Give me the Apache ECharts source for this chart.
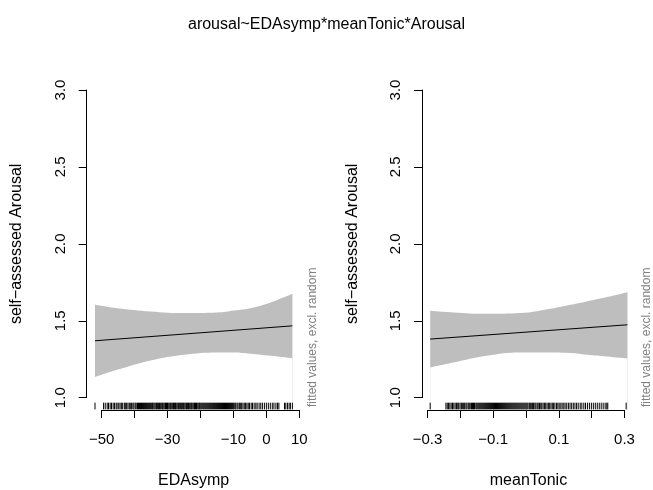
<!DOCTYPE html>
<html>
<head>
<meta charset="utf-8">
<script src="https://cdn.jsdelivr.net/npm/echarts@6/dist/echarts.min.js"></script>
<style>
html,body{margin:0;padding:0;background:#fff;}
#chart{width:653px;height:490px;}
</style>
</head>
<body>
<div id="chart"></div>
<script>
// ---- data ----
const titleText = 'arousal~EDAsymp*meanTonic*Arousal';
const yTitle = 'self\u2212assessed Arousal';
const noteText = 'fitted values, excl. random';

// Panel 1: EDAsymp
const edaX     = [-52.0, -45.3, -35.1, -25.0, -14.9, -9.8, -4.8, 1.3, 7.9];
const edaUpper = [1.604, 1.582, 1.561, 1.550, 1.554, 1.567, 1.582, 1.619, 1.675];
const edaLower = [1.134, 1.181, 1.242, 1.279, 1.294, 1.294, 1.286, 1.273, 1.257];
const edaFitX  = [-52.0, 7.9];
const edaFit   = [1.370, 1.467];
const edaTicks = [-50, -40, -30, -20, -10, 0, 10];
const edaTickLabels = ['-50', '-30', '-10', '0', '10'];
const edaRug = [-52.0,
  -49.4, -48.9, -48.3, -47.9, -47.4, -47.0, -46.5, -46.1, -45.6, -45.3, -44.8, -44.4, -44.0, -43.6,
  -43.1, -42.8, -42.4, -42.0, -41.6, -41.3, -40.9, -40.5, -40.2, -39.8, -39.5, -39.1, -38.8, -38.5,
  -38.2, -37.9, -37.6, -37.3, -37.0, -36.7, -36.4, -36.1, -35.8, -35.5, -35.2, -34.9, -34.6, -34.4,
  -34.1, -33.8, -33.5, -33.3, -33.0, -32.7, -32.4, -32.2, -31.9, -31.6, -31.4, -31.1, -30.8, -30.6,
  -30.3, -30.0, -29.8, -29.5, -29.2, -29.0, -28.7, -28.4, -28.2, -27.9, -27.6, -27.4, -27.1, -26.8,
  -26.6, -26.3, -26.0, -25.8, -25.5, -25.2, -25.0, -24.7, -24.4, -24.2, -23.9, -23.6, -23.4, -23.1,
  -22.8, -22.6, -22.3, -22.0, -21.8, -21.5, -21.2, -21.0, -20.7, -20.4, -20.2, -19.9, -19.6, -19.3,
  -19.0, -18.7, -18.4, -18.1, -17.8, -17.5, -17.2, -16.9, -16.6, -16.3, -16.0, -15.7, -15.4, -15.1,
  -14.8, -14.5, -14.2, -13.9, -13.6, -13.3, -13.0, -12.7, -12.4, -12.1, -11.8, -11.5, -11.2, -10.9,
  -10.6, -10.3, -10.0, -9.6, -9.3, -8.9, -8.6, -8.2, -7.9, -7.5, -7.1, -6.7, -6.3, -5.9, -5.5, -5.1,
  -4.6, -4.2, -3.7, -3.2, -2.8, -2.2, -1.7, -1.2, -0.6, 0.0, 0.6, 1.2, 1.8, 2.3, 2.9, 3.4, 3.8,
  5.5, 5.9, 6.4, 6.9, 7.3, 7.9];

// Panel 2: meanTonic
const tonX     = [-0.292, -0.221, -0.120, -0.018, 0.084, 0.135, 0.185, 0.246, 0.309];
const tonUpper = [1.565, 1.554, 1.545, 1.550, 1.582, 1.604, 1.626, 1.654, 1.686];
const tonLower = [1.197, 1.229, 1.273, 1.294, 1.294, 1.290, 1.279, 1.268, 1.255];
const tonFitX  = [-0.292, 0.309];
const tonFit   = [1.381, 1.474];
const tonTicks = [-0.3, -0.2, -0.1, 0, 0.1, 0.2, 0.3];
const tonTickLabels = ['-0.3', '-0.1', '0.1', '0.3'];
const tonRug = [-0.292,
  -0.244, -0.240, -0.236, -0.232, -0.228, -0.224, -0.220, -0.216, -0.212, -0.208, -0.205, -0.201,
  -0.197, -0.194, -0.190, -0.187, -0.183, -0.180, -0.176, -0.173, -0.170, -0.166, -0.163, -0.160,
  -0.157, -0.153, -0.150, -0.147, -0.144, -0.141, -0.138, -0.135, -0.132, -0.129, -0.126, -0.123,
  -0.120, -0.117, -0.114, -0.111, -0.108, -0.105, -0.102, -0.099, -0.096, -0.093, -0.090, -0.087,
  -0.084, -0.081, -0.078, -0.075, -0.072, -0.069, -0.066, -0.063, -0.060, -0.057, -0.054, -0.051,
  -0.048, -0.045, -0.042, -0.039, -0.036, -0.033, -0.030, -0.027, -0.024, -0.021, -0.018, -0.015,
  -0.012, -0.009, -0.006, -0.003, 0.000, 0.003, 0.006, 0.010, 0.013, 0.016, 0.020, 0.023, 0.027,
  0.030, 0.034, 0.037, 0.041, 0.045, 0.048, 0.052, 0.056, 0.060, 0.064, 0.068, 0.072, 0.076, 0.080,
  0.084, 0.088, 0.093, 0.097, 0.101, 0.106, 0.110, 0.115, 0.119, 0.124, 0.129, 0.134, 0.139, 0.144,
  0.149, 0.154, 0.159, 0.165, 0.170, 0.176, 0.181, 0.187, 0.193, 0.199, 0.205, 0.211, 0.217, 0.223,
  0.229, 0.235, 0.241, 0.246, 0.249, 0.305];

const yTicks = [1.0, 1.5, 2.0, 2.5, 3.0];

// ---- chart ----
const FONT = "'Liberation Sans', Arial, Helvetica, sans-serif";
const chart = echarts.init(document.getElementById('chart'), null, {renderer: 'canvas'});
const Y_MIN = 0.92, Y_MAX = 3.08;

function panel(p) {
  const gi = p.idx * 3;
  const grids = [
    {left: p.plotLeft, top: 77.7, width: p.plotWidth, height: 332.3, containLabel: false, outerBoundsMode: 'none'},
    {left: p.axLeft, top: 300, width: p.axWidth, height: 110, containLabel: false, outerBoundsMode: 'none'},
    {left: p.plotLeft - 0.3, top: 90, width: 100, height: 307.7, containLabel: false, outerBoundsMode: 'none'}
  ];
  const tickMin = p.ticks[0], tickMax = p.ticks[p.ticks.length - 1];
  const tickStep = Math.round((p.ticks[1] - p.ticks[0]) * 1000) / 1000;
  const xAxes = [
    {gridIndex: gi, type: 'value', min: p.xMin, max: p.xMax,
     axisLine: {show: false}, axisTick: {show: false}, axisLabel: {show: false}, splitLine: {show: false},
     name: p.xName, nameLocation: 'middle', nameGap: 63,
     nameTextStyle: {fontFamily: FONT, fontSize: 16, color: '#000'}},
    {gridIndex: gi + 1, type: 'value', min: tickMin, max: tickMax, interval: tickStep,
     axisLine: {show: true, onZero: false, lineStyle: {color: '#000', width: 1}},
     axisTick: {show: true, inside: false, length: 8, lineStyle: {color: '#000'}},
     splitLine: {show: false},
     axisLabel: {show: true, margin: 22, fontFamily: FONT, fontSize: 15, color: '#000',
       showMinLabel: true, showMaxLabel: true, hideOverlap: false,
       formatter: function (v) {
         const s = String(Math.round(v * 1000) / 1000);
         return p.labels.indexOf(s) >= 0 ? s.replace('-', '\u2212') : '';
       }}},
    {gridIndex: gi + 2, type: 'value', min: 0, max: 1, show: false}
  ];
  const yAxes = [
    {gridIndex: gi, type: 'value', min: Y_MIN, max: Y_MAX,
     axisLine: {show: false}, axisTick: {show: false}, axisLabel: {show: false}, splitLine: {show: false},
     name: yTitle, nameLocation: 'middle', nameGap: 62, nameRotate: 90,
     nameTextStyle: {fontFamily: FONT, fontSize: 16, color: '#000'}},
    {gridIndex: gi + 1, type: 'value', min: 0, max: 1, show: false},
    {gridIndex: gi + 2, type: 'value', min: yTicks[0], max: yTicks[yTicks.length - 1],
     interval: yTicks[1] - yTicks[0],
     axisLine: {show: true, onZero: false, lineStyle: {color: '#000', width: 1}},
     axisTick: {show: true, inside: false, length: 8, lineStyle: {color: '#000'}},
     splitLine: {show: false},
     axisLabel: {show: true, rotate: 90, margin: 18.5, fontFamily: FONT, fontSize: 15, color: '#000',
       showMinLabel: true, showMaxLabel: true,
       formatter: function (v) { return v.toFixed(1); }}}
  ];
  const series = [
    // grey area from the upper bound down to the plot bottom
    {type: 'line', xAxisIndex: gi, yAxisIndex: gi, smooth: 0.4,
     data: p.bx.map((x, i) => [x, p.up[i]]), symbol: 'none', lineStyle: {width: 0, opacity: 0},
     areaStyle: {color: '#bebebe', opacity: 1, origin: 'start'}, silent: true, z: 1},
    // white area from the lower bound down to the plot bottom
    {type: 'line', xAxisIndex: gi, yAxisIndex: gi, smooth: 0.4,
     data: p.bx.map((x, i) => [x, p.lo[i]]), symbol: 'none', lineStyle: {width: 0, opacity: 0},
     areaStyle: {color: '#ffffff', opacity: 1, origin: 'start'}, silent: true, z: 2},
    {type: 'line', xAxisIndex: gi, yAxisIndex: gi, data: p.fx.map((x, i) => [x, p.fy[i]]),
     symbol: 'none', lineStyle: {color: '#000', width: 1}, silent: true, z: 3},
    {type: 'custom', xAxisIndex: gi, yAxisIndex: gi, data: p.rug.map(v => [v, Y_MIN]),
     encode: {x: 0, y: 1}, silent: true, z: 4,
     renderItem: function (params, api) {
       const c = api.coord([api.value(0), api.value(1)]);
       return {type: 'line', shape: {x1: c[0], y1: c[1] - 7.3, x2: c[0], y2: c[1] - 0.6},
         style: {stroke: '#000', lineWidth: 1}};
     }}
  ];
  return {grids, xAxes, yAxes, series};
}

const p1 = panel({idx: 0, plotLeft: 87.0, plotWidth: 213.2, axLeft: 101.7, axWidth: 197.6,
  xMin: -54.43, xMax: 10.27, ticks: edaTicks, labels: edaTickLabels, xName: 'EDAsymp',
  bx: edaX, up: edaUpper, lo: edaLower, fx: edaFitX, fy: edaFit, rug: edaRug});
const p2 = panel({idx: 1, plotLeft: 422.3, plotWidth: 212.3, axLeft: 427.5, axWidth: 197.0,
  xMin: -0.316, xMax: 0.3307, ticks: tonTicks, labels: tonTickLabels, xName: 'meanTonic',
  bx: tonX, up: tonUpper, lo: tonLower, fx: tonFitX, fy: tonFit, rug: tonRug});

const option = {
  backgroundColor: '#fff',
  animation: false,
  title: {text: titleText, left: 'center', top: 12,
    textStyle: {fontFamily: FONT, fontSize: 16, fontWeight: 'normal', color: '#000'}},
  grid: p1.grids.concat(p2.grids),
  xAxis: p1.xAxes.concat(p2.xAxes),
  yAxis: p1.yAxes.concat(p2.yAxes),
  series: p1.series.concat(p2.series),
  graphic: [
    {type: 'text', x: 313, y: 407, rotation: Math.PI / 2, silent: true,
     style: {text: noteText, fontFamily: FONT, fontSize: 12, fill: '#808080',
       align: 'left', verticalAlign: 'middle'}},
    {type: 'text', x: 647, y: 407, rotation: Math.PI / 2, silent: true,
     style: {text: noteText, fontFamily: FONT, fontSize: 12, fill: '#808080',
       align: 'left', verticalAlign: 'middle'}}
  ]
};
chart.setOption(option);
</script>
</body>
</html>
